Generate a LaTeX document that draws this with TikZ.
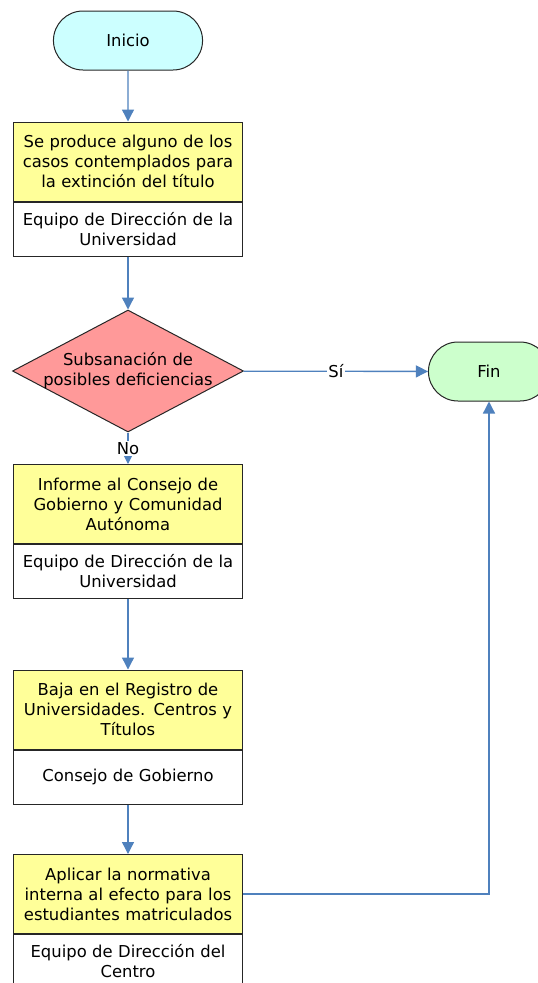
\documentclass[tikz,border=0pt]{standalone}
\usepackage{fontspec}
\setmainfont{DejaVu Sans}
\usetikzlibrary{positioning,shapes.misc,shapes.geometric,arrows.meta}

\definecolor{flowblue}{RGB}{79,129,189}
\definecolor{startcyan}{RGB}{204,255,255}
\definecolor{endgreen}{RGB}{204,255,204}
\definecolor{stepyellow}{RGB}{255,255,153}
\definecolor{checkred}{RGB}{255,153,153}

\begin{document}
\begin{tikzpicture}[x=0.75pt,y=-0.75pt,font=\fontsize{12.3}{15}\selectfont,
    terminal/.style={rounded rectangle, draw=black!85, line width=0.75pt, minimum width=118.5pt, minimum height=44.25pt},
    stepbox/.style={draw=black!85, line width=0.75pt, fill=stepyellow, minimum width=171.75pt, minimum height=59.25pt,
        text width=171pt, align=center, inner sep=0pt},
    rolebox/.style={draw=black!85, line width=0.75pt, fill=white, minimum width=171.75pt, minimum height=40.5pt,
        text width=171pt, align=center, inner sep=0pt},
    decision/.style={diamond, draw=black!85, line width=0.75pt, fill=checkred, minimum width=173.25pt, minimum height=91.5pt, inner sep=0pt},
    flow/.style={draw=flowblue, line width=1pt, -{Triangle[width=9pt,length=9pt]}},
    lbl/.style={fill=white, inner sep=1pt}]

    \useasboundingbox (0,0) rectangle (538,983);
    \clip (0,0) rectangle (538,983);

    % Start and end
    \node[terminal, fill=startcyan] (ini) at (128,40.5) {Inicio};
    \node[terminal, fill=endgreen, minimum width=97.5pt] (fin) at (489,371.5) {Fin};

    % Steps: action on top, who does it below
    \node[stepbox] (s1) at (128,161.5) {Se produce alguno de los\\casos contemplados para\\la extinción del título};
    \node[rolebox, below=0pt of s1] (r1) {Equipo de Dirección de la\\Universidad};

    % Check
    \node[decision] (chk) at (128,371) {};
    \node[align=center] (chktxt) at (chk) {Subsanación de\\posibles deficiencias};

    \node[stepbox] (s2) at (128,504) {Informe al Consejo de\\Gobierno y Comunidad\\Autónoma};
    \node[rolebox, below=0pt of s2] (r2) {Equipo de Dirección de la\\Universidad};

    \node[stepbox] (s3) at (128,709.5) {Baja en el Registro de\\Universidades. Centros y\\Títulos};
    \node[rolebox, below=0pt of s3] (r3) {Consejo de Gobierno};

    \node[stepbox] (s4) at (128,894) {Aplicar la normativa\\interna al efecto para los\\estudiantes matriculados};
    \node[rolebox, below=0pt of s4] (r4) {Equipo de Dirección del\\Centro};

    % Connectors
    \draw[flow] (ini) -- (s1);
    \draw[flow] (r1) -- (chk);
    \draw[flow] (chk) -- node[lbl] {Sí} (fin);
    \draw[flow] (chk) -- node[lbl] {No} (s2);
    \draw[flow] (r2) -- (s3);
    \draw[flow] (r3) -- (s4);
    \draw[flow] (s4.east) -| (fin.south);
\end{tikzpicture}
\end{document}
